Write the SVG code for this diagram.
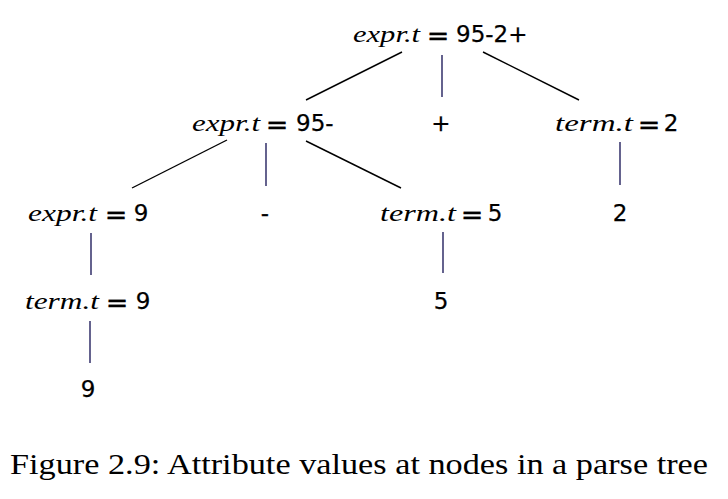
<svg xmlns="http://www.w3.org/2000/svg" width="728" height="499" viewBox="0 0 728 499">
<style>
.it{font-family:"Liberation Serif",serif;font-style:italic;font-size:24px;fill:#000}
.eq{font-family:"DejaVu Sans",sans-serif;font-size:27px;fill:#000;text-anchor:middle;stroke:#000;stroke-width:0.3}
.v{font-family:"DejaVu Sans",sans-serif;font-size:23px;fill:#000;stroke:#000;stroke-width:0.25}
.c{font-family:"Liberation Serif",serif;font-size:29px;fill:#000}
.d{stroke:#000;stroke-width:1.4;fill:none}
.vl{stroke:#23205e;stroke-width:1.4;fill:none}
</style>
<rect width="728" height="499" fill="#fff"/>
<g id="connectors">
<line class="d" x1="402" y1="52" x2="306" y2="100"/>
<line class="vl" x1="442" y1="55" x2="442" y2="97"/>
<line class="d" x1="483" y1="52" x2="579" y2="100"/>
<line class="d" x1="227" y1="140" x2="132" y2="188"/>
<line class="vl" x1="266" y1="143" x2="266" y2="186"/>
<line class="d" x1="306" y1="141" x2="401" y2="188"/>
<line class="vl" x1="620" y1="142" x2="620" y2="185"/>
<line class="vl" x1="91" y1="233" x2="91" y2="275"/>
<line class="vl" x1="443" y1="232" x2="443" y2="273"/>
<line class="vl" x1="90" y1="321" x2="90" y2="363"/>
</g>
<g id="n1"><text class="it" x="353" y="42" textLength="67" lengthAdjust="spacingAndGlyphs">expr.t</text><text class="eq" x="438" y="45">=</text><text class="v" x="456" y="42">95-2+</text></g>
<g id="n2"><text class="it" x="192" y="131" textLength="68" lengthAdjust="spacingAndGlyphs">expr.t</text><text class="eq" x="277" y="134">=</text><text class="v" x="296" y="131">95-</text></g>
<g id="n3"><text class="v" x="441" y="131" text-anchor="middle">+</text></g>
<g id="n4"><text class="it" x="555" y="131" textLength="78" lengthAdjust="spacingAndGlyphs">term.t</text><text class="eq" x="649" y="134">=</text><text class="v" x="671" y="131" text-anchor="middle">2</text></g>
<g id="n5"><text class="it" x="28" y="221" textLength="69" lengthAdjust="spacingAndGlyphs">expr.t</text><text class="eq" x="116" y="224">=</text><text class="v" x="141" y="221" text-anchor="middle">9</text></g>
<g id="n6"><text class="v" x="265" y="221" text-anchor="middle">-</text></g>
<g id="n7"><text class="it" x="380" y="221" textLength="76" lengthAdjust="spacingAndGlyphs">term.t</text><text class="eq" x="472" y="224">=</text><text class="v" x="495" y="221" text-anchor="middle">5</text></g>
<g id="n8"><text class="v" x="620" y="221" text-anchor="middle">2</text></g>
<g id="n9"><text class="it" x="25" y="309" textLength="74" lengthAdjust="spacingAndGlyphs">term.t</text><text class="eq" x="117" y="312">=</text><text class="v" x="143" y="309" text-anchor="middle">9</text></g>
<g id="n10"><text class="v" x="441" y="309" text-anchor="middle">5</text></g>
<g id="n11"><text class="v" x="88" y="397" text-anchor="middle">9</text></g>
<text class="c" x="10" y="474" textLength="698" lengthAdjust="spacingAndGlyphs">Figure 2.9: Attribute values at nodes in a parse tree</text>
</svg>
